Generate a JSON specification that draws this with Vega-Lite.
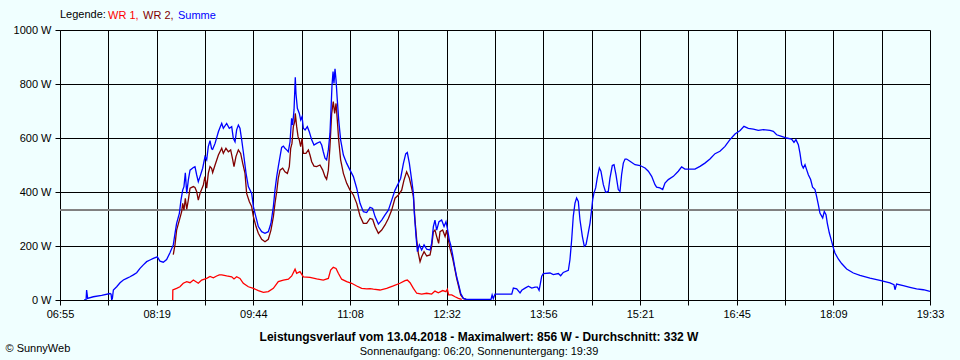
{
"$schema":"https://vega.github.io/schema/vega-lite/v6.json",
"autosize":{"type":"none"},
"width":870,"height":270,
"padding":{"left":60,"top":30,"right":30,"bottom":60},
"background":"#F0FFFF",
"config":{"font":"Liberation Sans","view":{"stroke":null}},
"title":{"text":"Leistungsverlauf vom 13.04.2018 - Maximalwert: 856 W - Durchschnitt: 332 W","subtitle":"Sonnenaufgang: 06:20, Sonnenuntergang: 19:39","orient":"bottom","anchor":"middle","fontSize":12,"fontWeight":"bold","color":"black","subtitleFontSize":11,"subtitleColor":"black","subtitlePadding":2,"offset":-21,"dx":-16},
"data":{"values":[
{"t":513.2,"W":0,"s":"WR 1"},{"t":513.3,"W":37,"s":"WR 1"},{"t":516.6,"W":43,"s":"WR 1"},{"t":519.5,"W":49,"s":"WR 1"},{"t":522.4,"W":62,"s":"WR 1"},{"t":525.4,"W":68,"s":"WR 1"},{"t":528.3,"W":64,"s":"WR 1"},{"t":531.2,"W":74,"s":"WR 1"},{"t":535.5,"W":62,"s":"WR 1"},{"t":538.4,"W":74,"s":"WR 1"},{"t":542.8,"W":80,"s":"WR 1"},{"t":545.7,"W":87,"s":"WR 1"},{"t":548.6,"W":82,"s":"WR 1"},{"t":551.5,"W":89,"s":"WR 1"},{"t":553.8,"W":93,"s":"WR 1"},{"t":555.9,"W":93,"s":"WR 1"},{"t":560.2,"W":89,"s":"WR 1"},{"t":564.6,"W":86,"s":"WR 1"},{"t":566.6,"W":78,"s":"WR 1"},{"t":568.9,"W":86,"s":"WR 1"},{"t":571.8,"W":80,"s":"WR 1"},{"t":574.7,"W":62,"s":"WR 1"},{"t":579.1,"W":49,"s":"WR 1"},{"t":583.5,"W":43,"s":"WR 1"},{"t":587.8,"W":35,"s":"WR 1"},{"t":592.2,"W":28,"s":"WR 1"},{"t":596.5,"W":31,"s":"WR 1"},{"t":600.9,"W":43,"s":"WR 1"},{"t":605.2,"W":68,"s":"WR 1"},{"t":609.6,"W":74,"s":"WR 1"},{"t":614.0,"W":77,"s":"WR 1"},{"t":616.9,"W":89,"s":"WR 1"},{"t":619.8,"W":114,"s":"WR 1"},{"t":621.2,"W":99,"s":"WR 1"},{"t":624.1,"W":105,"s":"WR 1"},{"t":627.0,"W":86,"s":"WR 1"},{"t":632.8,"W":84,"s":"WR 1"},{"t":638.6,"W":78,"s":"WR 1"},{"t":644.4,"W":74,"s":"WR 1"},{"t":648.8,"W":80,"s":"WR 1"},{"t":650.8,"W":111,"s":"WR 1"},{"t":653.1,"W":121,"s":"WR 1"},{"t":655.5,"W":117,"s":"WR 1"},{"t":657.5,"W":99,"s":"WR 1"},{"t":660.4,"W":77,"s":"WR 1"},{"t":664.8,"W":68,"s":"WR 1"},{"t":669.1,"W":62,"s":"WR 1"},{"t":673.5,"W":52,"s":"WR 1"},{"t":677.8,"W":43,"s":"WR 1"},{"t":682.2,"W":41,"s":"WR 1"},{"t":685.1,"W":42,"s":"WR 1"},{"t":688.0,"W":40,"s":"WR 1"},{"t":693.8,"W":37,"s":"WR 1"},{"t":699.6,"W":43,"s":"WR 1"},{"t":705.4,"W":52,"s":"WR 1"},{"t":711.2,"W":62,"s":"WR 1"},{"t":715.6,"W":72,"s":"WR 1"},{"t":717.6,"W":74,"s":"WR 1"},{"t":720.0,"W":64,"s":"WR 1"},{"t":722.9,"W":43,"s":"WR 1"},{"t":725.8,"W":25,"s":"WR 1"},{"t":730.1,"W":22,"s":"WR 1"},{"t":734.5,"W":25,"s":"WR 1"},{"t":738.8,"W":22,"s":"WR 1"},{"t":741.7,"W":33,"s":"WR 1"},{"t":744.6,"W":27,"s":"WR 1"},{"t":748.4,"W":35,"s":"WR 1"},{"t":751.3,"W":31,"s":"WR 1"},{"t":752.5,"W":40,"s":"WR 1"},{"t":753.6,"W":19,"s":"WR 1"},{"t":756.3,"W":19,"s":"WR 1"},{"t":759.2,"W":12,"s":"WR 1"},{"t":762.1,"W":6,"s":"WR 1"},{"t":765.0,"W":2,"s":"WR 1"},
{"t":513.7,"W":168,"s":"WR 2"},{"t":515.2,"W":205,"s":"WR 2"},{"t":516.6,"W":259,"s":"WR 2"},{"t":519.0,"W":296,"s":"WR 2"},{"t":521.0,"W":327,"s":"WR 2"},{"t":521.9,"W":358,"s":"WR 2"},{"t":523.0,"W":333,"s":"WR 2"},{"t":524.2,"W":377,"s":"WR 2"},{"t":525.4,"W":336,"s":"WR 2"},{"t":526.8,"W":370,"s":"WR 2"},{"t":528.3,"W":414,"s":"WR 2"},{"t":531.2,"W":420,"s":"WR 2"},{"t":532.6,"W":417,"s":"WR 2"},{"t":534.1,"W":401,"s":"WR 2"},{"t":535.5,"W":370,"s":"WR 2"},{"t":537.0,"W":395,"s":"WR 2"},{"t":539.9,"W":426,"s":"WR 2"},{"t":541.3,"W":457,"s":"WR 2"},{"t":542.8,"W":414,"s":"WR 2"},{"t":544.2,"W":469,"s":"WR 2"},{"t":545.7,"W":494,"s":"WR 2"},{"t":547.1,"W":488,"s":"WR 2"},{"t":548.0,"W":472,"s":"WR 2"},{"t":550.1,"W":500,"s":"WR 2"},{"t":553.0,"W":537,"s":"WR 2"},{"t":555.9,"W":562,"s":"WR 2"},{"t":557.3,"W":543,"s":"WR 2"},{"t":559.6,"W":562,"s":"WR 2"},{"t":561.7,"W":549,"s":"WR 2"},{"t":563.7,"W":556,"s":"WR 2"},{"t":565.5,"W":519,"s":"WR 2"},{"t":566.6,"W":494,"s":"WR 2"},{"t":568.3,"W":531,"s":"WR 2"},{"t":570.4,"W":556,"s":"WR 2"},{"t":572.4,"W":543,"s":"WR 2"},{"t":574.2,"W":506,"s":"WR 2"},{"t":576.2,"W":469,"s":"WR 2"},{"t":577.6,"W":395,"s":"WR 2"},{"t":580.0,"W":364,"s":"WR 2"},{"t":582.0,"W":346,"s":"WR 2"},{"t":583.5,"W":309,"s":"WR 2"},{"t":585.8,"W":272,"s":"WR 2"},{"t":587.8,"W":247,"s":"WR 2"},{"t":590.7,"W":225,"s":"WR 2"},{"t":593.6,"W":216,"s":"WR 2"},{"t":596.5,"W":225,"s":"WR 2"},{"t":598.8,"W":259,"s":"WR 2"},{"t":600.9,"W":309,"s":"WR 2"},{"t":602.3,"W":358,"s":"WR 2"},{"t":603.8,"W":401,"s":"WR 2"},{"t":605.2,"W":451,"s":"WR 2"},{"t":606.7,"W":481,"s":"WR 2"},{"t":609.0,"W":488,"s":"WR 2"},{"t":611.0,"W":475,"s":"WR 2"},{"t":613.1,"W":469,"s":"WR 2"},{"t":614.8,"W":494,"s":"WR 2"},{"t":616.0,"W":562,"s":"WR 2"},{"t":617.1,"W":580,"s":"WR 2"},{"t":618.3,"W":642,"s":"WR 2"},{"t":619.5,"W":661,"s":"WR 2"},{"t":620.0,"W":691,"s":"WR 2"},{"t":621.2,"W":642,"s":"WR 2"},{"t":622.4,"W":605,"s":"WR 2"},{"t":623.5,"W":593,"s":"WR 2"},{"t":624.7,"W":568,"s":"WR 2"},{"t":625.9,"W":599,"s":"WR 2"},{"t":627.0,"W":543,"s":"WR 2"},{"t":629.3,"W":543,"s":"WR 2"},{"t":631.4,"W":556,"s":"WR 2"},{"t":632.8,"W":537,"s":"WR 2"},{"t":634.3,"W":512,"s":"WR 2"},{"t":636.3,"W":496,"s":"WR 2"},{"t":638.6,"W":494,"s":"WR 2"},{"t":641.5,"W":500,"s":"WR 2"},{"t":643.9,"W":481,"s":"WR 2"},{"t":645.9,"W":457,"s":"WR 2"},{"t":647.3,"W":447,"s":"WR 2"},{"t":648.8,"W":481,"s":"WR 2"},{"t":650.2,"W":568,"s":"WR 2"},{"t":651.7,"W":691,"s":"WR 2"},{"t":653.1,"W":735,"s":"WR 2"},{"t":654.3,"W":691,"s":"WR 2"},{"t":655.5,"W":728,"s":"WR 2"},{"t":656.6,"W":667,"s":"WR 2"},{"t":657.8,"W":593,"s":"WR 2"},{"t":659.5,"W":519,"s":"WR 2"},{"t":661.9,"W":469,"s":"WR 2"},{"t":664.8,"W":432,"s":"WR 2"},{"t":667.7,"W":407,"s":"WR 2"},{"t":670.6,"W":389,"s":"WR 2"},{"t":673.5,"W":358,"s":"WR 2"},{"t":676.4,"W":311,"s":"WR 2"},{"t":679.3,"W":284,"s":"WR 2"},{"t":682.2,"W":284,"s":"WR 2"},{"t":685.1,"W":302,"s":"WR 2"},{"t":687.4,"W":299,"s":"WR 2"},{"t":689.5,"W":272,"s":"WR 2"},{"t":692.4,"W":247,"s":"WR 2"},{"t":695.3,"W":259,"s":"WR 2"},{"t":698.2,"W":278,"s":"WR 2"},{"t":701.1,"W":302,"s":"WR 2"},{"t":704.0,"W":333,"s":"WR 2"},{"t":706.9,"W":377,"s":"WR 2"},{"t":709.8,"W":389,"s":"WR 2"},{"t":712.7,"W":407,"s":"WR 2"},{"t":714.7,"W":444,"s":"WR 2"},{"t":717.0,"W":475,"s":"WR 2"},{"t":719.4,"W":451,"s":"WR 2"},{"t":721.4,"W":414,"s":"WR 2"},{"t":722.9,"W":383,"s":"WR 2"},{"t":724.3,"W":296,"s":"WR 2"},{"t":725.8,"W":222,"s":"WR 2"},{"t":727.2,"W":173,"s":"WR 2"},{"t":728.7,"W":142,"s":"WR 2"},{"t":730.1,"W":160,"s":"WR 2"},{"t":732.2,"W":179,"s":"WR 2"},{"t":734.5,"W":163,"s":"WR 2"},{"t":737.4,"W":167,"s":"WR 2"},{"t":738.8,"W":198,"s":"WR 2"},{"t":740.3,"W":253,"s":"WR 2"},{"t":741.7,"W":259,"s":"WR 2"},{"t":743.2,"W":235,"s":"WR 2"},{"t":744.9,"W":210,"s":"WR 2"},{"t":746.1,"W":253,"s":"WR 2"},{"t":748.4,"W":259,"s":"WR 2"},{"t":750.5,"W":235,"s":"WR 2"},{"t":751.9,"W":259,"s":"WR 2"},{"t":753.4,"W":222,"s":"WR 2"},{"t":754.8,"W":191,"s":"WR 2"},{"t":757.1,"W":154,"s":"WR 2"},{"t":758.9,"W":117,"s":"WR 2"},{"t":760.6,"W":80,"s":"WR 2"},{"t":762.4,"W":49,"s":"WR 2"},{"t":764.1,"W":19,"s":"WR 2"},{"t":766.4,"W":6,"s":"WR 2"},{"t":768.7,"W":2,"s":"WR 2"},
{"t":435.9,"W":0,"s":"Summe"},{"t":437.7,"W":0,"s":"Summe"},{"t":438.2,"W":37,"s":"Summe"},{"t":439.1,"W":6,"s":"Summe"},{"t":444.0,"W":12,"s":"Summe"},{"t":451.3,"W":17,"s":"Summe"},{"t":458.6,"W":24,"s":"Summe"},{"t":459.5,"W":22,"s":"Summe"},{"t":460.0,"W":2,"s":"Summe"},{"t":460.6,"W":4,"s":"Summe"},{"t":461.5,"W":37,"s":"Summe"},{"t":464.4,"W":49,"s":"Summe"},{"t":467.3,"W":64,"s":"Summe"},{"t":470.2,"W":74,"s":"Summe"},{"t":473.1,"W":80,"s":"Summe"},{"t":476.0,"W":86,"s":"Summe"},{"t":478.9,"W":93,"s":"Summe"},{"t":481.8,"W":101,"s":"Summe"},{"t":484.7,"W":117,"s":"Summe"},{"t":487.6,"W":130,"s":"Summe"},{"t":490.5,"W":142,"s":"Summe"},{"t":493.4,"W":148,"s":"Summe"},{"t":496.3,"W":154,"s":"Summe"},{"t":499.8,"W":160,"s":"Summe"},{"t":502.1,"W":144,"s":"Summe"},{"t":505.0,"W":140,"s":"Summe"},{"t":507.9,"W":150,"s":"Summe"},{"t":510.8,"W":175,"s":"Summe"},{"t":513.7,"W":204,"s":"Summe"},{"t":515.2,"W":247,"s":"Summe"},{"t":516.6,"W":284,"s":"Summe"},{"t":519.0,"W":321,"s":"Summe"},{"t":520.4,"W":370,"s":"Summe"},{"t":521.9,"W":407,"s":"Summe"},{"t":523.0,"W":420,"s":"Summe"},{"t":524.2,"W":471,"s":"Summe"},{"t":525.4,"W":395,"s":"Summe"},{"t":526.8,"W":444,"s":"Summe"},{"t":528.3,"W":481,"s":"Summe"},{"t":531.2,"W":491,"s":"Summe"},{"t":532.6,"W":494,"s":"Summe"},{"t":534.1,"W":463,"s":"Summe"},{"t":535.5,"W":438,"s":"Summe"},{"t":537.0,"W":457,"s":"Summe"},{"t":539.3,"W":488,"s":"Summe"},{"t":541.3,"W":531,"s":"Summe"},{"t":542.8,"W":519,"s":"Summe"},{"t":544.2,"W":568,"s":"Summe"},{"t":545.7,"W":590,"s":"Summe"},{"t":547.1,"W":560,"s":"Summe"},{"t":548.0,"W":558,"s":"Summe"},{"t":550.1,"W":580,"s":"Summe"},{"t":553.0,"W":623,"s":"Summe"},{"t":554.5,"W":640,"s":"Summe"},{"t":555.9,"W":654,"s":"Summe"},{"t":557.3,"W":636,"s":"Summe"},{"t":560.2,"W":654,"s":"Summe"},{"t":562.5,"W":636,"s":"Summe"},{"t":564.6,"W":642,"s":"Summe"},{"t":566.0,"W":599,"s":"Summe"},{"t":567.5,"W":586,"s":"Summe"},{"t":568.9,"W":630,"s":"Summe"},{"t":570.4,"W":648,"s":"Summe"},{"t":571.8,"W":636,"s":"Summe"},{"t":573.3,"W":593,"s":"Summe"},{"t":574.7,"W":549,"s":"Summe"},{"t":577.1,"W":469,"s":"Summe"},{"t":579.1,"W":420,"s":"Summe"},{"t":582.0,"W":395,"s":"Summe"},{"t":583.5,"W":346,"s":"Summe"},{"t":584.9,"W":321,"s":"Summe"},{"t":586.4,"W":296,"s":"Summe"},{"t":587.8,"W":272,"s":"Summe"},{"t":590.7,"W":253,"s":"Summe"},{"t":593.6,"W":247,"s":"Summe"},{"t":596.5,"W":253,"s":"Summe"},{"t":598.8,"W":284,"s":"Summe"},{"t":600.9,"W":346,"s":"Summe"},{"t":602.3,"W":407,"s":"Summe"},{"t":603.8,"W":457,"s":"Summe"},{"t":605.2,"W":494,"s":"Summe"},{"t":606.7,"W":531,"s":"Summe"},{"t":608.1,"W":565,"s":"Summe"},{"t":609.6,"W":570,"s":"Summe"},{"t":611.0,"W":562,"s":"Summe"},{"t":612.5,"W":556,"s":"Summe"},{"t":613.9,"W":549,"s":"Summe"},{"t":615.4,"W":586,"s":"Summe"},{"t":616.8,"W":673,"s":"Summe"},{"t":617.7,"W":648,"s":"Summe"},{"t":618.9,"W":704,"s":"Summe"},{"t":620.0,"W":825,"s":"Summe"},{"t":620.6,"W":765,"s":"Summe"},{"t":621.8,"W":710,"s":"Summe"},{"t":623.5,"W":691,"s":"Summe"},{"t":624.7,"W":667,"s":"Summe"},{"t":625.9,"W":679,"s":"Summe"},{"t":627.0,"W":636,"s":"Summe"},{"t":628.5,"W":630,"s":"Summe"},{"t":630.5,"W":642,"s":"Summe"},{"t":632.2,"W":623,"s":"Summe"},{"t":634.3,"W":593,"s":"Summe"},{"t":636.3,"W":574,"s":"Summe"},{"t":638.6,"W":580,"s":"Summe"},{"t":641.5,"W":586,"s":"Summe"},{"t":643.0,"W":574,"s":"Summe"},{"t":644.4,"W":549,"s":"Summe"},{"t":645.9,"W":525,"s":"Summe"},{"t":647.3,"W":519,"s":"Summe"},{"t":648.8,"W":556,"s":"Summe"},{"t":650.2,"W":617,"s":"Summe"},{"t":651.1,"W":704,"s":"Summe"},{"t":652.0,"W":796,"s":"Summe"},{"t":652.9,"W":846,"s":"Summe"},{"t":653.7,"W":802,"s":"Summe"},{"t":654.6,"W":856,"s":"Summe"},{"t":655.5,"W":815,"s":"Summe"},{"t":656.6,"W":741,"s":"Summe"},{"t":657.8,"W":667,"s":"Summe"},{"t":659.5,"W":593,"s":"Summe"},{"t":661.9,"W":537,"s":"Summe"},{"t":664.8,"W":506,"s":"Summe"},{"t":667.7,"W":481,"s":"Summe"},{"t":670.6,"W":457,"s":"Summe"},{"t":673.5,"W":414,"s":"Summe"},{"t":676.4,"W":358,"s":"Summe"},{"t":679.3,"W":327,"s":"Summe"},{"t":682.2,"W":324,"s":"Summe"},{"t":685.1,"W":343,"s":"Summe"},{"t":687.4,"W":339,"s":"Summe"},{"t":689.5,"W":309,"s":"Summe"},{"t":692.4,"W":281,"s":"Summe"},{"t":695.3,"W":296,"s":"Summe"},{"t":698.2,"W":315,"s":"Summe"},{"t":701.1,"W":333,"s":"Summe"},{"t":704.0,"W":370,"s":"Summe"},{"t":706.9,"W":407,"s":"Summe"},{"t":709.8,"W":432,"s":"Summe"},{"t":711.8,"W":451,"s":"Summe"},{"t":714.2,"W":506,"s":"Summe"},{"t":716.2,"W":541,"s":"Summe"},{"t":717.6,"W":546,"s":"Summe"},{"t":719.4,"W":506,"s":"Summe"},{"t":721.4,"W":444,"s":"Summe"},{"t":722.9,"W":395,"s":"Summe"},{"t":723.7,"W":321,"s":"Summe"},{"t":725.2,"W":235,"s":"Summe"},{"t":726.4,"W":179,"s":"Summe"},{"t":728.1,"W":204,"s":"Summe"},{"t":730.1,"W":185,"s":"Summe"},{"t":732.2,"W":204,"s":"Summe"},{"t":734.5,"W":188,"s":"Summe"},{"t":737.4,"W":185,"s":"Summe"},{"t":738.8,"W":210,"s":"Summe"},{"t":740.3,"W":272,"s":"Summe"},{"t":741.7,"W":296,"s":"Summe"},{"t":743.2,"W":259,"s":"Summe"},{"t":745.2,"W":290,"s":"Summe"},{"t":747.5,"W":296,"s":"Summe"},{"t":749.6,"W":272,"s":"Summe"},{"t":751.3,"W":290,"s":"Summe"},{"t":752.5,"W":265,"s":"Summe"},{"t":754.2,"W":222,"s":"Summe"},{"t":755.4,"W":204,"s":"Summe"},{"t":757.1,"W":167,"s":"Summe"},{"t":758.9,"W":123,"s":"Summe"},{"t":760.6,"W":86,"s":"Summe"},{"t":762.4,"W":56,"s":"Summe"},{"t":764.1,"W":25,"s":"Summe"},{"t":766.4,"W":6,"s":"Summe"},{"t":769.3,"W":2,"s":"Summe"},{"t":776.6,"W":2,"s":"Summe"},{"t":790.5,"W":2,"s":"Summe"},{"t":791.5,"W":19,"s":"Summe"},{"t":792.5,"W":5,"s":"Summe"},{"t":794.0,"W":22,"s":"Summe"},{"t":808.6,"W":22,"s":"Summe"},{"t":810.0,"W":44,"s":"Summe"},{"t":812.9,"W":41,"s":"Summe"},{"t":815.8,"W":26,"s":"Summe"},{"t":817.3,"W":36,"s":"Summe"},{"t":820.2,"W":44,"s":"Summe"},{"t":823.1,"W":51,"s":"Summe"},{"t":826.0,"W":44,"s":"Summe"},{"t":828.9,"W":48,"s":"Summe"},{"t":830.9,"W":48,"s":"Summe"},{"t":832.4,"W":36,"s":"Summe"},{"t":833.2,"W":53,"s":"Summe"},{"t":834.7,"W":88,"s":"Summe"},{"t":836.1,"W":98,"s":"Summe"},{"t":841.9,"W":100,"s":"Summe"},{"t":844.8,"W":94,"s":"Summe"},{"t":849.2,"W":98,"s":"Summe"},{"t":851.2,"W":90,"s":"Summe"},{"t":853.5,"W":102,"s":"Summe"},{"t":857.9,"W":110,"s":"Summe"},{"t":859.3,"W":149,"s":"Summe"},{"t":860.8,"W":223,"s":"Summe"},{"t":862.2,"W":310,"s":"Summe"},{"t":863.7,"W":359,"s":"Summe"},{"t":865.1,"W":378,"s":"Summe"},{"t":866.6,"W":365,"s":"Summe"},{"t":868.0,"W":298,"s":"Summe"},{"t":870.1,"W":236,"s":"Summe"},{"t":871.8,"W":199,"s":"Summe"},{"t":873.3,"W":205,"s":"Summe"},{"t":874.7,"W":236,"s":"Summe"},{"t":876.8,"W":285,"s":"Summe"},{"t":878.2,"W":335,"s":"Summe"},{"t":879.1,"W":372,"s":"Summe"},{"t":880.2,"W":396,"s":"Summe"},{"t":881.7,"W":415,"s":"Summe"},{"t":883.1,"W":452,"s":"Summe"},{"t":884.9,"W":489,"s":"Summe"},{"t":886.3,"W":477,"s":"Summe"},{"t":888.4,"W":427,"s":"Summe"},{"t":890.4,"W":399,"s":"Summe"},{"t":892.7,"W":402,"s":"Summe"},{"t":894.2,"W":452,"s":"Summe"},{"t":896.2,"W":498,"s":"Summe"},{"t":897.7,"W":501,"s":"Summe"},{"t":899.4,"W":464,"s":"Summe"},{"t":901.4,"W":409,"s":"Summe"},{"t":902.9,"W":402,"s":"Summe"},{"t":904.3,"W":464,"s":"Summe"},{"t":905.8,"W":507,"s":"Summe"},{"t":907.3,"W":522,"s":"Summe"},{"t":908.7,"W":522,"s":"Summe"},{"t":911.6,"W":514,"s":"Summe"},{"t":916.0,"W":501,"s":"Summe"},{"t":920.4,"W":498,"s":"Summe"},{"t":924.7,"W":489,"s":"Summe"},{"t":927.6,"W":477,"s":"Summe"},{"t":930.5,"W":458,"s":"Summe"},{"t":933.4,"W":427,"s":"Summe"},{"t":934.8,"W":418,"s":"Summe"},{"t":937.7,"W":415,"s":"Summe"},{"t":940.1,"W":409,"s":"Summe"},{"t":942.1,"W":433,"s":"Summe"},{"t":945.0,"W":446,"s":"Summe"},{"t":949.4,"W":458,"s":"Summe"},{"t":953.7,"W":477,"s":"Summe"},{"t":956.6,"W":493,"s":"Summe"},{"t":959.5,"W":485,"s":"Summe"},{"t":963.9,"W":485,"s":"Summe"},{"t":968.2,"W":485,"s":"Summe"},{"t":972.6,"W":495,"s":"Summe"},{"t":976.9,"W":507,"s":"Summe"},{"t":981.3,"W":522,"s":"Summe"},{"t":985.7,"W":542,"s":"Summe"},{"t":990.0,"W":551,"s":"Summe"},{"t":994.4,"W":569,"s":"Summe"},{"t":998.7,"W":594,"s":"Summe"},{"t":1003.1,"W":615,"s":"Summe"},{"t":1007.6,"W":628,"s":"Summe"},{"t":1010.9,"W":643,"s":"Summe"},{"t":1014.7,"W":636,"s":"Summe"},{"t":1019.1,"W":633,"s":"Summe"},{"t":1023.4,"W":628,"s":"Summe"},{"t":1027.8,"W":631,"s":"Summe"},{"t":1033.6,"W":628,"s":"Summe"},{"t":1036.5,"W":625,"s":"Summe"},{"t":1039.4,"W":612,"s":"Summe"},{"t":1043.7,"W":606,"s":"Summe"},{"t":1048.1,"W":600,"s":"Summe"},{"t":1052.4,"W":596,"s":"Summe"},{"t":1054.5,"W":584,"s":"Summe"},{"t":1056.2,"W":594,"s":"Summe"},{"t":1058.3,"W":575,"s":"Summe"},{"t":1059.7,"W":544,"s":"Summe"},{"t":1061.2,"W":501,"s":"Summe"},{"t":1062.6,"W":489,"s":"Summe"},{"t":1064.1,"W":501,"s":"Summe"},{"t":1065.5,"W":483,"s":"Summe"},{"t":1067.0,"W":464,"s":"Summe"},{"t":1069.0,"W":446,"s":"Summe"},{"t":1070.7,"W":418,"s":"Summe"},{"t":1072.8,"W":409,"s":"Summe"},{"t":1074.2,"W":384,"s":"Summe"},{"t":1075.7,"W":353,"s":"Summe"},{"t":1077.1,"W":322,"s":"Summe"},{"t":1079.5,"W":304,"s":"Summe"},{"t":1080.9,"W":328,"s":"Summe"},{"t":1082.4,"W":316,"s":"Summe"},{"t":1083.5,"W":285,"s":"Summe"},{"t":1085.3,"W":248,"s":"Summe"},{"t":1087.3,"W":217,"s":"Summe"},{"t":1088.8,"W":193,"s":"Summe"},{"t":1090.2,"W":174,"s":"Summe"},{"t":1093.1,"W":152,"s":"Summe"},{"t":1096.0,"W":135,"s":"Summe"},{"t":1100.4,"W":115,"s":"Summe"},{"t":1106.2,"W":100,"s":"Summe"},{"t":1112.0,"W":91,"s":"Summe"},{"t":1120.7,"W":81,"s":"Summe"},{"t":1129.4,"W":73,"s":"Summe"},{"t":1138.1,"W":63,"s":"Summe"},{"t":1141.6,"W":57,"s":"Summe"},{"t":1142.5,"W":38,"s":"Summe"},{"t":1143.9,"W":59,"s":"Summe"},{"t":1149.7,"W":53,"s":"Summe"},{"t":1155.5,"W":47,"s":"Summe"},{"t":1161.3,"W":41,"s":"Summe"},{"t":1167.2,"W":38,"s":"Summe"},{"t":1173.0,"W":32,"s":"Summe"}
]},
"layer":[
{"mark":{"type":"rule","color":"#808080","strokeWidth":1},"encoding":{"y":{"datum":332,"type":"quantitative"}}},
{"mark":{"type":"line","strokeWidth":1.3,"clip":true},
 "encoding":{
  "x":{"field":"t","type":"quantitative","scale":{"domain":[415,1173],"nice":false,"zero":false},
   "axis":{"title":"© SunnyWeb","titleX":-55,"titleY":51,"titleAlign":"left","titleAnchor":null,"titleBaseline":"alphabetic","titleFontSize":11,"titleFontWeight":"normal","titleColor":"black",
    "values":[415,457.111,499.222,541.333,583.444,625.556,667.667,709.778,751.889,794,836.111,878.222,920.333,962.444,1004.556,1046.667,1088.778,1130.889,1173],
    "labelExpr":"['06:55','','08:19','','09:44','','11:08','','12:32','','13:56','','15:21','','16:45','','18:09','','19:33'][round((datum.value-415)/42.1111)]",
    "grid":true,"gridColor":"black","gridOpacity":1,"gridWidth":1,"tickColor":"black","tickSize":5,"domainColor":"black","labelColor":"black","labelFontSize":11,"labelPadding":3,"labelFlush":false,"labelOverlap":false}},
  "y":{"field":"W","type":"quantitative","scale":{"domain":[0,1000],"nice":false},
   "axis":{"title":null,"values":[0,200,400,600,800,1000],"labelExpr":"datum.value + ' W'","grid":true,"gridColor":"black","gridOpacity":1,"gridWidth":1,"tickColor":"black","tickSize":5,"domainColor":"black","labelColor":"black","labelFontSize":11,"labelPadding":4}},
  "color":{"field":"s","type":"nominal","sort":["WR 1","WR 2","Summe"],"scale":{"domain":["WR 1","WR 2","Summe"],"range":["#FF0000","#800000","#0000FF"]},
   "legend":{"orient":"none","legendX":0,"legendY":-20,"direction":"horizontal","title":"Legende:","titleOrient":"left","titleFontSize":11,"titleFontWeight":"normal","titleColor":"black","titlePadding":3,"labelFontSize":11,"symbolSize":0,"symbolStrokeWidth":0,"labelOffset":-12,"columnPadding":4,"padding":0,
    "labelExpr":"datum.label == 'Summe' ? 'Summe' : datum.label + ','",
    "encode":{"labels":{"update":{"fill":{"scale":"color","field":"value"}}}}}}
 }}
]
}
